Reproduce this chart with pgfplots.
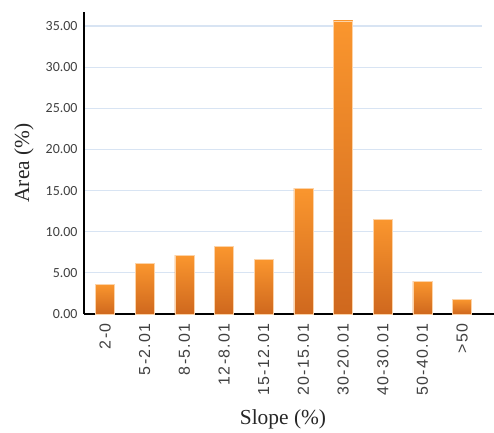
\documentclass[border=0pt]{standalone}
\usepackage{pgfplots}
\pgfplotsset{compat=1.18}
\usepackage{fontspec}
\setmainfont{Liberation Serif}
\newfontfamily\tickfont{Carlito}
\newfontfamily\xtickfont[LetterSpace=8]{Liberation Sans}
\definecolor{gridblue}{HTML}{D8E4F3}
\definecolor{bartop}{HTML}{FA962E}
\definecolor{barbot}{HTML}{CF681E}
\definecolor{baredge}{HTML}{FCD3A8}
\definecolor{ticktext}{HTML}{404040}

\pgfplotsset{
    slopebar/.style={ybar, bar shift=0pt, draw=none,
        top color=bartop, bottom color=barbot,
        postaction={draw=baredge, line width=0.6bp}},
}

\begin{document}
\begin{tikzpicture}[x=1bp,y=1bp]
\begin{axis}[
    name=ax,
    scale only axis,
    width=398bp, height=302bp,
    xmin=-0.53, xmax=9.5,
    ymin=0, ymax=36.7,
    axis x line*=bottom, axis y line*=left,
    x axis line style={line width=1.6bp, shorten >=-12bp},
    y axis line style={line width=1.6bp},
    xtick={0,...,9},
    xticklabels={2-0,5-2.01,8-5.01,12-8.01,15-12.01,20-15.01,30-20.01,40-30.01,50-40.01,>50},
    x tick label style={rotate=90, anchor=east, font=\xtickfont\fontsize{16}{18}\selectfont, text=ticktext},
    xticklabel shift=6bp,
    ytick={0,5,...,35},
    y tick label style={font=\tickfont\fontsize{14}{16}\selectfont, text=ticktext},
    yticklabel shift=3bp,
    yticklabel={\pgfmathprintnumber[fixed,fixed zerofill,precision=2]{\tick}},
    /pgf/number format/assume math mode=true,
    major tick length=0pt,
    ymajorgrids, grid style={gridblue, line width=1.2bp},
    xlabel={Slope (\%)}, ylabel={Area (\%)},
    label style={font=\fontsize{21.5}{24}\selectfont, text=black!85},
    xlabel style={at={(axis description cs:0.5,0)}, anchor=center, yshift=-105bp},
    ylabel style={at={(axis description cs:-0.151,0.5)}, anchor=center},
    bar width=19bp,
]
\addplot[slopebar] coordinates {(0,3.62)};
\addplot[slopebar] coordinates {(1,6.16)};
\addplot[slopebar] coordinates {(2,7.09)};
\addplot[slopebar] coordinates {(3,8.18)};
\addplot[slopebar] coordinates {(4,6.65)};
\addplot[slopebar] coordinates {(5,15.27)};
\addplot[slopebar] coordinates {(6,35.62)};
\addplot[slopebar] coordinates {(7,11.50)};
\addplot[slopebar] coordinates {(8,4.00)};
\addplot[slopebar] coordinates {(9,1.78)};
\end{axis}
\path (ax.south west) ++(-84bp,-114bp) coordinate (pad1);
\path (ax.north east) ++(12bp,12bp) coordinate (pad2);
\end{tikzpicture}
\end{document}
